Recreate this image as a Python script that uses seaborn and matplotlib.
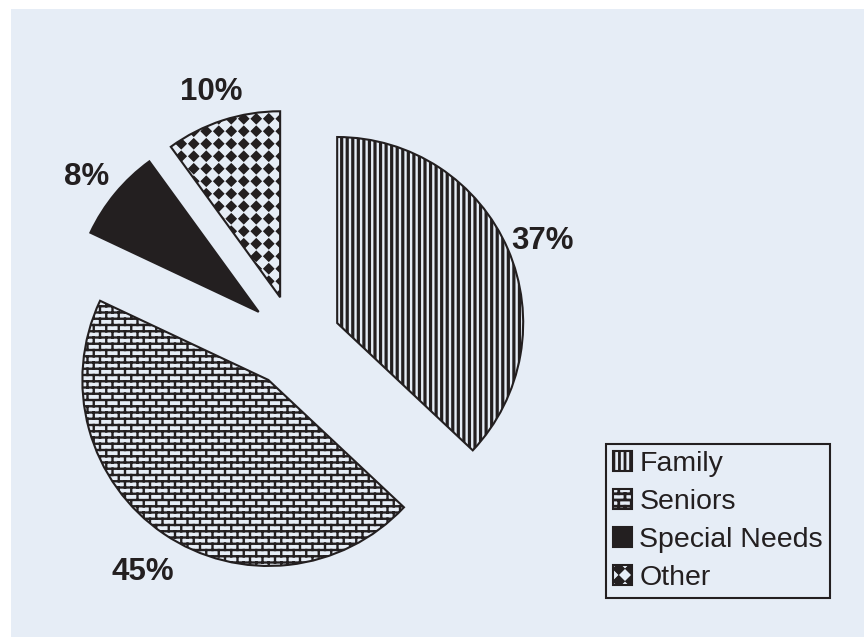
import warnings
import numpy as np
import matplotlib
matplotlib.use("Agg")
import matplotlib.pyplot as plt
import matplotlib.hatch as mhatch
from matplotlib.path import Path
from matplotlib.patches import Rectangle
from matplotlib.transforms import ScaledTranslation
import seaborn as sns

warnings.filterwarnings("ignore")

# data
categories = ["Family", "Seniors", "Special Needs", "Other"]
shares = [37, 45, 8, 10]

BG = "#e6edf6"
INK = "#231f20"


# brick pattern ('b') and black diamond checker ('d') hatches
class BrickHatch(mhatch.HatchPatternBase):
    rows, cols = 16, 8

    def __init__(self, hatch, density):
        on = "b" in hatch
        n_v = (self.rows // 2) * (self.cols + 1) + (self.rows // 2) * self.cols
        self.num_vertices = 2 * (self.rows + 1 + n_v) if on else 0

    def set_vertices_and_codes(self, vertices, codes):
        segs = []
        for r in range(self.rows + 1):
            y = r / self.rows
            segs.append([(0, y), (1, y)])
        for r in range(self.rows):
            y0, y1 = r / self.rows, (r + 1) / self.rows
            if r % 2 == 0:
                xs = [c / self.cols for c in range(self.cols + 1)]
            else:
                xs = [(c + 0.5) / self.cols for c in range(self.cols)]
            for x in xs:
                segs.append([(x, y0), (x, y1)])
        vertices[:] = np.array(segs, dtype=float).reshape(-1, 2)
        codes[0::2] = Path.MOVETO
        codes[1::2] = Path.LINETO


class DiamondHatch(mhatch.HatchPatternBase):
    n = 8
    half = 0.36
    rings = 4

    def __init__(self, hatch, density):
        on = "d" in hatch
        self.num_vertices = 5 * self.n ** 2 * self.rings if on else 0

    def set_vertices_and_codes(self, vertices, codes):
        n = self.n
        pts = []
        for i in range(n):
            for j in range(n):
                cx, cy = (i + 0.5) / n, (j + 0.5) / n
                for k in range(self.rings, 0, -1):
                    h = self.half / n * k / self.rings
                    pts += [(cx - h, cy), (cx, cy + h), (cx + h, cy),
                            (cx, cy - h), (cx - h, cy)]
        vertices[:] = np.array(pts)
        codes[:] = np.tile([Path.MOVETO, Path.LINETO, Path.LINETO,
                            Path.LINETO, Path.CLOSEPOLY], n * n * self.rings)


mhatch._hatch_types.extend([BrickHatch, DiamondHatch])

sns.set_theme(style="white")
plt.rcParams["font.family"] = ["Liberation Sans", "DejaVu Sans"]
plt.rcParams["hatch.linewidth"] = 2.0

W, H = 864, 637
fig = plt.figure(figsize=(W / 100, H / 100), dpi=100, facecolor="white")
fig.add_artist(Rectangle((11 / W, 0), 1, 1 - 9 / H, transform=fig.transFigure,
                         facecolor=BG, edgecolor="none", zorder=-5))

# pie centre ~ (294, 341) px, radius ~186 px
R, cx, cy = 186, 294.5, 341.5
ax = fig.add_axes([(cx - 1.6 * R) / W, (H - cy - 1.6 * R) / H, 3.2 * R / W, 3.2 * R / H])

wedges, texts, autotexts = ax.pie(
    shares,
    startangle=90,
    counterclock=False,
    explode=[0.25] * len(shares),
    colors=[BG, BG, INK, BG],
    hatch=["|||", "b", None, "d"],
    autopct=lambda p: f"{p:.0f}%",
    pctdistance=1.2,
    wedgeprops=dict(edgecolor=INK, linewidth=1.5),
    textprops=dict(fontsize=22.5, fontweight="bold", color=INK),
)
for w, lw in zip(wedges, [2.3, 1.7, 1.0, 1.4]):
    if hasattr(w, "set_hatch_linewidth"):
        w.set_hatch_linewidth(lw)
for t in autotexts:
    t.set_transform(ax.transData + ScaledTranslation(0, -7 / 100, fig.dpi_scale_trans))

ax.set_xlim(-1.6, 1.6)
ax.set_ylim(-1.6, 1.6)
ax.axis("off")

leg = ax.legend(
    wedges, categories,
    loc="lower right",
    bbox_to_anchor=(830 / W, 39 / H),
    bbox_transform=fig.transFigure,
    fontsize=20.5,
    frameon=True, fancybox=False, shadow=False,
    edgecolor=INK, facecolor=BG, framealpha=1,
    handlelength=0.67, handleheight=0.7, handletextpad=0.25,
    labelspacing=0.42, borderpad=0.25, borderaxespad=0,
)
leg.get_frame().set_linewidth(1.5)
for t in leg.get_texts():
    t.set_color(INK)

fig.savefig("out.png", dpi=100)
